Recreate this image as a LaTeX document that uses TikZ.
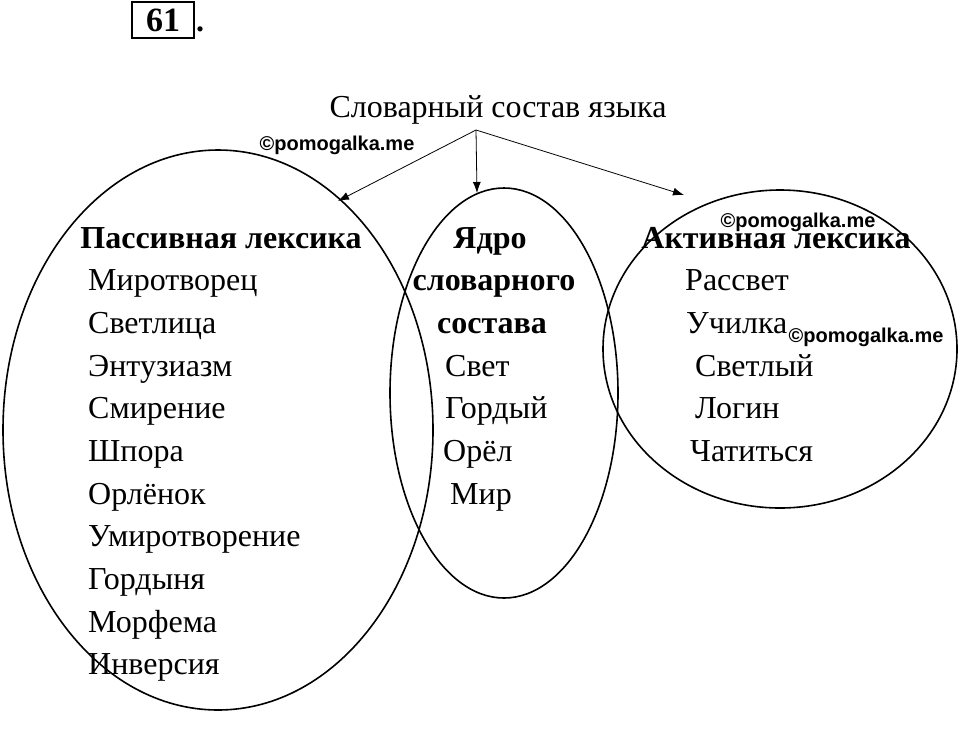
\documentclass[tikz,border=0pt]{standalone}
\usepackage{fontspec}
\usetikzlibrary{arrows.meta}
\setmainfont{Liberation Serif}
\newfontfamily\wm{Liberation Sans}
\begin{document}
\begin{tikzpicture}[x=1pt,y=-1pt,
 t/.style={anchor=base west,inner sep=0pt,font=\fontsize{32}{36}\selectfont},
 h/.style={anchor=base,inner sep=0pt,font=\fontsize{32}{36}\selectfont\bfseries},
 w/.style={inner sep=0pt,font=\wm\fontsize{20}{22}\selectfont\bfseries},
 el/.style={line width=1.6pt},
 ar/.style={-{Latex[length=11pt,width=8pt]},line width=0.8pt}]
\useasboundingbox (0,0) rectangle (960,737);
\node[draw,line width=2pt,inner sep=3pt,minimum width=62pt,minimum height=36pt,font=\fontsize{34}{36}\selectfont\bfseries] (n) at (163,20) {61};
\node[anchor=base west,inner sep=1pt,font=\fontsize{32}{36}\selectfont\bfseries] (dot) at (n.base east) {.};
\node[anchor=base,inner sep=1pt,font=\fontsize{32}{36}\selectfont] (title) at (498,117) {Словарный состав языка};
\coordinate (o) at (476,130);
\coordinate (a1) at (338,201);
\coordinate (a2) at (477,193);
\coordinate (a3) at (684,195);
\draw[ar] (o) -- (a1);
\draw[ar] (o) -- (a2);
\draw[ar] (o) -- (a3);
\draw[el] (218,430) ellipse [x radius=215, y radius=280];
\draw[el] (504,393) ellipse [x radius=114, y radius=205];
\draw[el] (780,349) ellipse [x radius=177, y radius=159];
\node[w] (w1) at (337,145) {©pomogalka.me};
\node[w] (w2) at (798,222) {©pomogalka.me};
\node[w] (w3) at (866,337) {©pomogalka.me};
\node[h] (p) at (221,248) {Пассивная лексика};
\node[t] (p1) at (88,290) {Миротворец};
\node[t] (p2) at (88,333) {Светлица};
\node[t] (p3) at (88,376) {Энтузиазм};
\node[t] (p4) at (88,418) {Смирение};
\node[t] (p5) at (88,461) {Шпора};
\node[t] (p6) at (88,504) {Орлёнок};
\node[t] (p7) at (88,546) {Умиротворение};
\node[t] (p8) at (88,589) {Гордыня};
\node[t] (p9) at (88,632) {Морфема};
\node[t] (p10) at (88,674) {Инверсия};
\node[h] (c1) at (490,248) {Ядро};
\node[h] (c2) at (494,290) {словарного};
\node[h] (c3) at (492,333) {состава};
\node[t] (m1) at (445,376) {Свет};
\node[t] (m2) at (445,418) {Гордый};
\node[t] (m3) at (443,461) {Орёл};
\node[t] (m4) at (450,504) {Мир};
\node[h] (r) at (776,248) {Активная лексика};
\node[t] (r1) at (685,290) {Рассвет};
\node[t] (r2) at (686,333) {Училка};
\node[t] (r3) at (695,376) {Светлый};
\node[t] (r4) at (695,418) {Логин};
\node[t] (r5) at (690,461) {Чатиться};
\end{tikzpicture}
\end{document}
